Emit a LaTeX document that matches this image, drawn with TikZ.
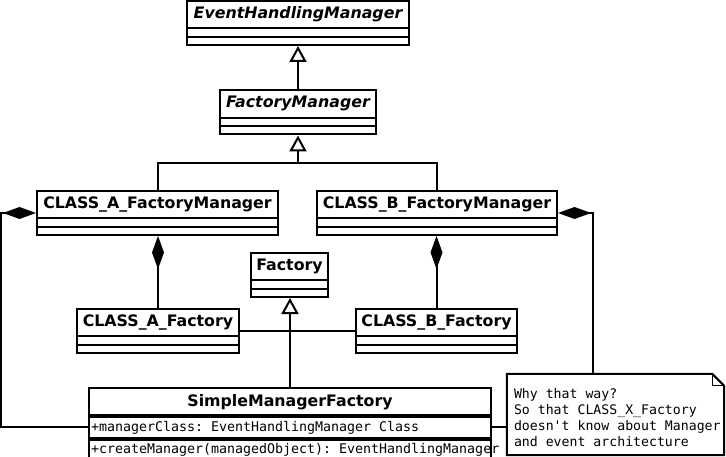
\documentclass[tikz,border=0pt]{standalone}
\usepackage{fontspec}
\setmainfont{DejaVu Sans}
\newfontfamily\umlmono{DejaVu Sans Mono}[WordSpace={1,0,0}]
\usetikzlibrary{arrows.meta,calc}

\begin{document}
\begin{tikzpicture}[x=1pt, y=-1pt,
    umlclass/.style={draw, line width=2pt, inner sep=0pt, text height=17.5pt, text depth=26.5pt,
      font=\fontsize{15.8}{18}\selectfont\bfseries,
      path picture={\draw[line width=2pt]
        ([yshift=8.3pt]path picture bounding box.south west) -- ([yshift=8.3pt]path picture bounding box.south east)
        ([yshift=16.6pt]path picture bounding box.south west) -- ([yshift=16.6pt]path picture bounding box.south east);}},
    umlhead/.style={draw, line width=2pt, inner sep=0pt, minimum width=402pt, text height=18.5pt, text depth=8.5pt,
      font=\fontsize{15.8}{18}\selectfont\bfseries},
    monotext/.style={execute at begin node={\spaceskip=7.95pt\relax\xspaceskip=7.95pt\relax}},
    umlrow/.style={draw, monotext, line width=2pt, inner xsep=2pt, inner ysep=0pt, text width=398pt,
      text height=14pt, text depth=6.5pt, font=\umlmono\fontsize{13.3}{16}\selectfont},
    gen/.style={line width=2pt, -{Triangle[open, length=16pt, width=17pt]}},
    compo/.style={line width=2pt, -{Diamond[length=33pt, width=12pt]}},
    assoc/.style={line width=2pt}
]
\useasboundingbox (0,0) rectangle (726,457);

% classes
\node[umlclass, minimum width=222pt] (ehm) at (298,23) {\itshape EventHandlingManager};
\node[umlclass, minimum width=156pt] (fm) at (298,112.5) {\itshape FactoryManager};
\node[umlclass, minimum width=241pt] (cafm) at (157.5,213) {CLASS\_A\_FactoryManager};
\node[umlclass, minimum width=240pt] (cbfm) at (437,213) {CLASS\_B\_FactoryManager};
\node[umlclass, minimum width=77pt] (fac) at (289.5,275) {Factory};
\node[umlclass, minimum width=162pt] (caf) at (158,331) {CLASS\_A\_Factory};
\node[umlclass, minimum width=161pt] (cbf) at (436.5,331) {CLASS\_B\_Factory};

\node[umlhead] (smf) at (290,401.5) {SimpleManagerFactory};
\node[umlrow, anchor=north] (smfattr) at (smf.south) {+managerClass: EventHandlingManager Class};
\node[umlrow, anchor=north] (smfop) at (smfattr.south) {\mbox{+createManager(managedObject): EventHandlingManager}};

% note
\node[monotext, inner sep=0pt, minimum width=217pt, minimum height=81pt, text width=203pt, text height=17pt,
      font=\umlmono\fontsize{13.2}{16}\selectfont] (note) at (615.5,414.5)
  {Why that way?\\So that CLASS\_X\_Factory\\\mbox{doesn't know about Manager}\\and event architecture};
\draw[line width=2pt] (note.north west) -- ([xshift=-12pt]note.north east) -- ([yshift=-12pt]note.north east)
  -- (note.south east) -- (note.south west) -- cycle;
\draw[line width=1.1pt] ([xshift=-12pt]note.north east) -- ([xshift=-12pt,yshift=-12pt]note.north east)
  -- ([yshift=-12pt]note.north east);

% connectors
\coordinate (fmjoin) at (298,163);
\coordinate (lbend) at (1,213);
\coordinate (rbend) at (593,213);
\draw[gen] (fm) -- (ehm);
\draw[gen] (cafm.north) |- (fmjoin) -- (fm.south);
\draw[assoc] (cbfm.north) |- (fmjoin);
\draw[compo] (caf.north) -- (caf.north |- cafm.south);
\draw[compo] (cbf.north) -- (cbf.north |- cbfm.south);
\draw[assoc] (caf) -- (cbf);
\draw[gen] (smf.north) -- (smf.north |- fac.south);
\draw[compo] (smfattr.west) -| (lbend) -- (cafm.west);
\draw[compo] (note.north -| rbend) -- (rbend) -- (cbfm.east);
\draw[assoc] (smfattr.east) -- (smfattr.east -| note.west);
\end{tikzpicture}
\end{document}
